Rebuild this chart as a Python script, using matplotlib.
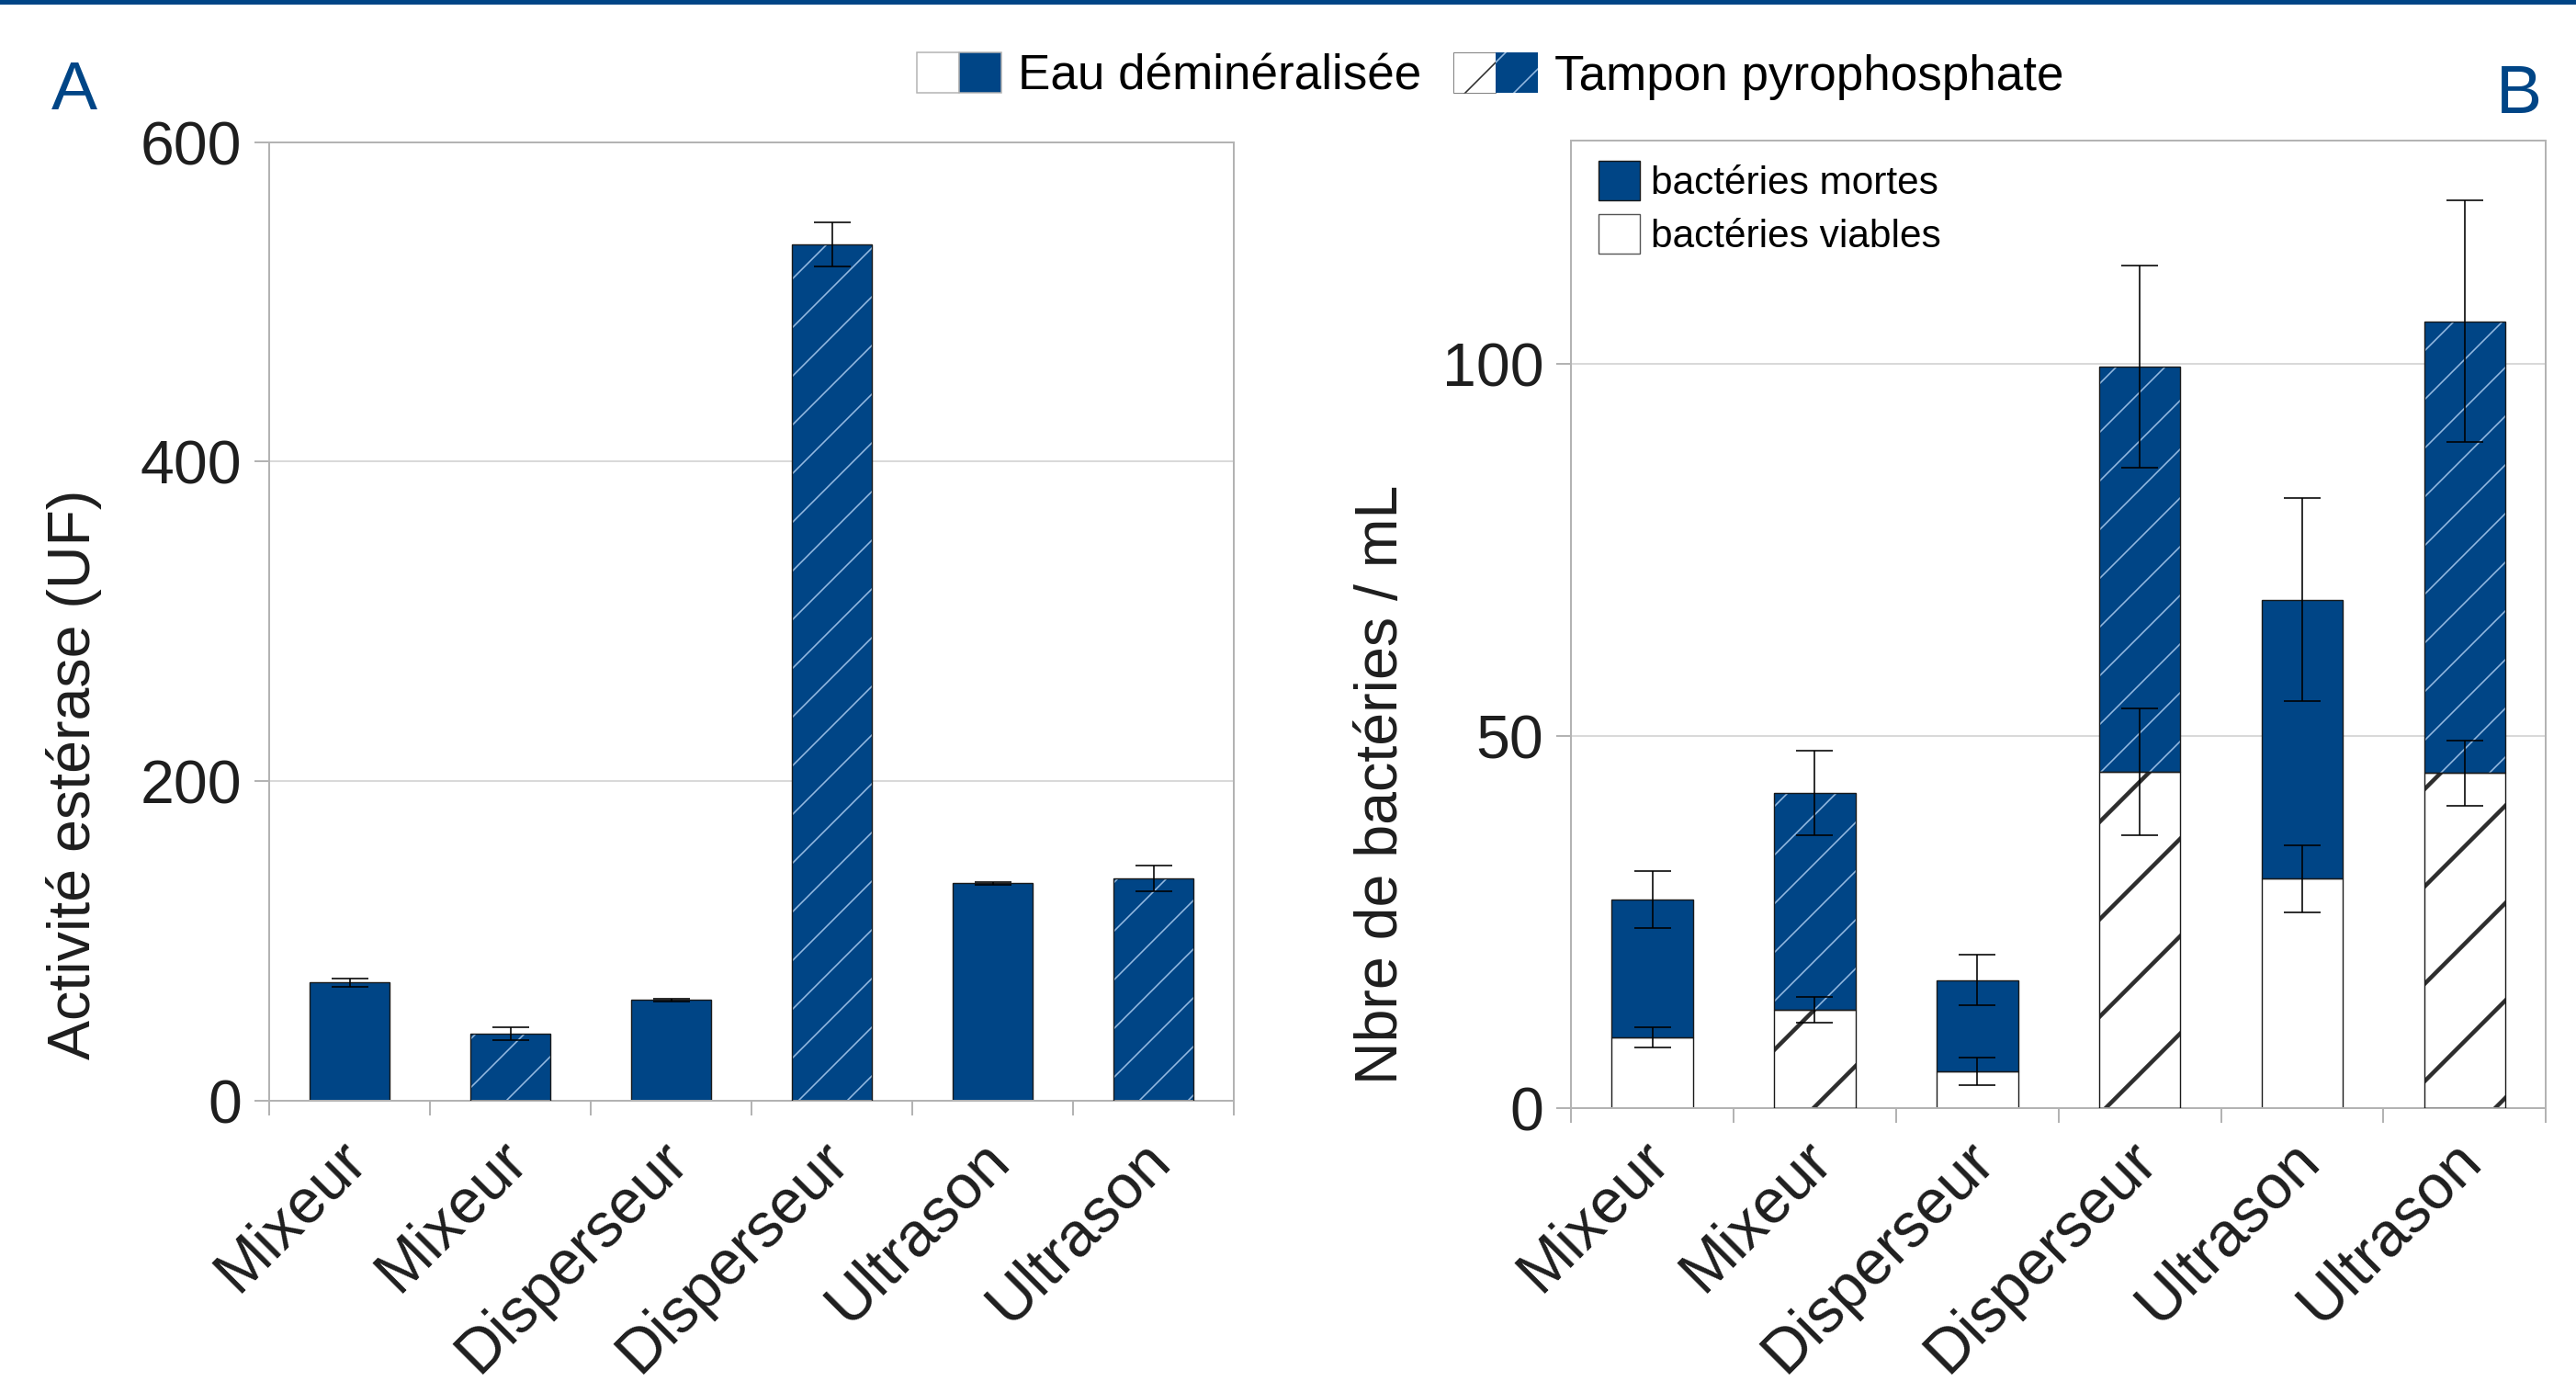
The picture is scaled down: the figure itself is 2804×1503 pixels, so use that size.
import numpy as np
import matplotlib
matplotlib.use('Agg')
import matplotlib.pyplot as plt
import matplotlib.transforms as mtransforms
from matplotlib.patches import Patch, Rectangle
from matplotlib.legend_handler import HandlerTuple

# Réglages généraux
DPI = 318
W, H = 2804, 1503
plt.rcParams['font.family'] = ['Liberation Sans', 'DejaVu Sans']


def pt(px):
    """Convertit des pixels (image finale) en points."""
    return px * 72 / DPI


plt.rcParams['hatch.linewidth'] = pt(1.6)

BLEU = '#004586'
HACH_CLAIR = '#93b9e0'
HACH_SOMBRE = '#2e2e2e'
GRIS = '#b3b3b3'
GRILLE = '#d9d9d9'
BORD = '#1a1a1a'
TEXTE = '#1e1e1e'

# Données
traitements = ['Mixeur', 'Mixeur', 'Disperseur', 'Disperseur', 'Ultrason', 'Ultrason']
tampon = [False, True, False, True, False, True]

activite = [74, 42, 63, 536, 136, 139]
activite_err = [2.5, 4, 1, 14, 1, 8]

viables = [9.5, 13.2, 4.9, 45.2, 30.8, 45.0]
viables_err = [1.35, 1.7, 1.85, 8.5, 4.5, 4.35]
mortes = [18.5, 29.1, 12.3, 54.4, 37.5, 60.7]
total_err = [3.8, 5.7, 3.4, 13.6, 13.6, 16.2]

x = np.arange(len(traitements))
est_tampon = np.array(tampon)


def barres(ax, pos, hauteurs, bas, couleur, hachure=None, couleur_hachure=None, lw_hachure=None):
    hauteurs = np.asarray(hauteurs)
    bas = np.asarray(bas)
    if hachure:
        lw = lw_hachure if lw_hachure is not None else plt.rcParams['hatch.linewidth']
        with plt.rc_context({'hatch.linewidth': lw}):
            fond = ax.bar(pos, hauteurs, 0.5, bottom=bas, color=couleur, hatch=hachure,
                          edgecolor=couleur_hachure, linewidth=0, zorder=2)
        for p in fond:
            if hasattr(p, 'set_hatch_linewidth'):
                p.set_hatch_linewidth(lw)
        ax.bar(pos, hauteurs, 0.5, bottom=bas, fill=False, edgecolor=BORD,
               linewidth=pt(1.4), zorder=3)
    else:
        ax.bar(pos, hauteurs, 0.5, bottom=bas, color=couleur, edgecolor=BORD,
               linewidth=pt(1.4), zorder=2)


def erreurs(ax, pos, val, err):
    ax.errorbar(pos, val, yerr=err, fmt='none', ecolor='black', elinewidth=pt(1.6),
                capsize=pt(20), capthick=pt(1.6), zorder=5)


def habiller(ax, ymax, pas, pad_x):
    ax.set_xlim(-0.5, 5.5)
    ax.set_ylim(0, ymax)
    ax.set_yticks(np.arange(0, ymax + 1, pas))
    ax.yaxis.grid(True, color=GRILLE, linewidth=pt(2))
    ax.set_axisbelow(True)
    for s in ax.spines.values():
        s.set_color(GRIS)
        s.set_linewidth(pt(2))
    ax.tick_params(axis='y', length=pt(16), width=pt(2), color=GRIS, pad=pt(14),
                   labelsize=15, labelcolor=TEXTE)
    ax.set_xticks(x)
    ax.set_xticklabels(traitements, rotation=45, ha='right', va='center',
                       rotation_mode='anchor', fontsize=15.3, color=TEXTE)
    ax.set_xticks(np.arange(-0.5, 6), minor=True)
    ax.tick_params(axis='x', which='major', length=0, pad=pt(pad_x))
    ax.tick_params(axis='x', which='minor', length=pt(16), width=pt(2), color=GRIS)
    decal = mtransforms.ScaledTranslation(8 / DPI, 0, fig.dpi_scale_trans)
    for lab in ax.get_xticklabels():
        lab.set_transform(lab.get_transform() + decal)


fig = plt.figure(figsize=((W + 0.3) / DPI, (H + 0.3) / DPI), dpi=DPI)

# Bandeau bleu en haut
fig.add_artist(Rectangle((0, 1 - 5 / H), 1, 5 / H, transform=fig.transFigure,
                         color=BLEU, linewidth=0))

# --- Panneau A : activité estérase
axA = fig.add_axes([293 / W, 1 - 1198 / H, 1050 / W, 1043 / H])
barres(axA, x[~est_tampon], np.array(activite)[~est_tampon], 0, BLEU)
barres(axA, x[est_tampon], np.array(activite)[est_tampon], 0, BLEU, '//', HACH_CLAIR)
erreurs(axA, x, activite, activite_err)
habiller(axA, 600, 200, 54)
axA.set_ylabel('Activité estérase (UF)', fontsize=14.6, color=TEXTE)
axA.yaxis.set_label_coords((111 - 293) / 1050, (1198 - 843) / 1043)

# --- Panneau B : bactéries viables / mortes
axB = fig.add_axes([1710 / W, 1 - 1206 / H, 1061 / W, 1053 / H])
v = np.array(viables)
m = np.array(mortes)
barres(axB, x[~est_tampon], v[~est_tampon], 0, 'white')
barres(axB, x[est_tampon], v[est_tampon], 0, 'white', '/', HACH_SOMBRE, pt(4.5))
barres(axB, x[~est_tampon], m[~est_tampon], v[~est_tampon], BLEU)
barres(axB, x[est_tampon], m[est_tampon], v[est_tampon], BLEU, '//', HACH_CLAIR)
erreurs(axB, x, v, viables_err)
erreurs(axB, x, v + m, total_err)
habiller(axB, 130, 50, 46)
axB.set_ylabel('Nbre de bactéries / mL', fontsize=14.6, color=TEXTE)
axB.yaxis.set_label_coords((1534 - 1710) / 1061, (1206 - 854) / 1053)

axB.legend([Patch(facecolor=BLEU, edgecolor=BORD, linewidth=pt(1.4)),
            Patch(facecolor='white', edgecolor='#555555', linewidth=pt(1.4))],
           ['bactéries mortes', 'bactéries viables'],
           loc='upper left', bbox_to_anchor=(30 / 1061, 1 - 22 / 1053),
           borderaxespad=0, borderpad=0, frameon=False, fontsize=9.6,
           handlelength=1.06, handleheight=1.18, handletextpad=0.28, labelspacing=0.32)

# Légende du haut (milieu de dispersion)
h_eau = (Patch(facecolor='white', edgecolor=GRIS, linewidth=pt(1.5)),
         Patch(facecolor=BLEU, edgecolor=GRIS, linewidth=pt(1.5)))
h_tampon = (Patch(facecolor='white', edgecolor=HACH_SOMBRE, hatch='/', linewidth=pt(0.6)),
            Patch(facecolor=BLEU, edgecolor=HACH_CLAIR, hatch='//', linewidth=0))
fig.legend([h_eau, h_tampon], ['Eau déminéralisée', 'Tampon pyrophosphate'],
           handler_map={tuple: HandlerTuple(ndivide=None, pad=0)}, ncol=2,
           loc='center', bbox_to_anchor=(1622 / W, 1 - 83 / H), frameon=False,
           fontsize=12, handlelength=1.75, handleheight=0.9, handletextpad=0.34,
           columnspacing=0.64, borderpad=0)

fig.text(56 / W, 1 - 119 / H, 'A', fontsize=17, color=BLEU, ha='left', va='baseline')
fig.text(2717 / W, 1 - 123 / H, 'B', fontsize=17, color=BLEU, ha='left', va='baseline')

fig.savefig('out.png', dpi=DPI)
